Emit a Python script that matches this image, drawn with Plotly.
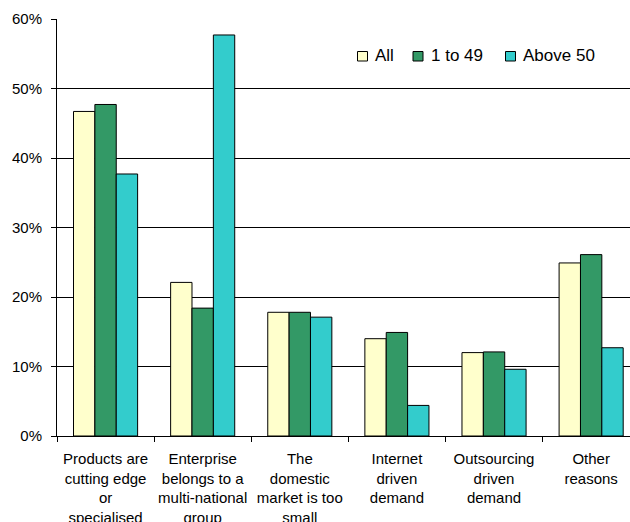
import plotly.graph_objects as go

categories = [
    "Products are<br>cutting edge<br>or<br>specialised",
    "Enterprise<br>belongs to a<br>multi-national<br>group",
    "The<br>domestic<br>market is too<br>small",
    "Internet<br>driven<br>demand",
    "Outsourcing<br>driven<br>demand",
    "Other<br>reasons",
]
series_names = ["All", "1 to 49", "Above 50"]
all_vals = [46.7, 22.1, 17.8, 14.0, 12.0, 24.9]
small_vals = [47.7, 18.4, 17.8, 14.9, 12.1, 26.1]
large_vals = [37.7, 57.7, 17.1, 4.4, 9.6, 12.7]
series_values = [all_vals, small_vals, large_vals]
colors = ["#FFFFCC", "#339966", "#33CCCC"]
title_text = "Reasons for exporting among exporting enterprises (%)"

FONT = "Liberation Sans, Arial, sans-serif"
W, H = 630, 522
ML, MR, MT, MB = 57, 0, 19, 86

fig = go.Figure()
for name, vals, col in zip(series_names, series_values, colors):
    fig.add_trace(go.Bar(
        x=categories,
        y=[v / 100 for v in vals],
        name=name,
        marker=dict(color=col, line=dict(color="#000000", width=1)),
        showlegend=False,
    ))

# custom legend (swatch + label) positioned in pixels
plot_w = W - ML - MR
plot_h = H - MT - MB
def px_x(px):
    return (px - ML) / plot_w
def px_y(py):
    return (H - MB - py) / plot_h

legend_sq_x = [357.5, 413, 505.5]
for name, col, sx in zip(series_names, colors, legend_sq_x):
    fig.add_shape(type="rect", xref="paper", yref="paper",
                  x0=px_x(sx), x1=px_x(sx + 10), y0=px_y(61), y1=px_y(51.5),
                  fillcolor=col, line=dict(color="#000000", width=1))
    fig.add_annotation(xref="paper", yref="paper", x=px_x(sx + 15.5), y=px_y(55.5),
                       xanchor="left", yanchor="middle", text=name, showarrow=False,
                       font=dict(family=FONT, size=17, color="#000000"))

# chart title (cut off at the top edge, as in the reference)
fig.add_annotation(xref="paper", yref="paper", x=px_x(335), y=1,
                   xanchor="center", yanchor="middle", yshift=28,
                   text="<b>" + title_text + "</b>", showarrow=False,
                   font=dict(family=FONT, size=16.5, color="#000000"))

fig.update_layout(
    width=W, height=H,
    margin=dict(l=ML, r=MR, t=MT, b=MB, pad=0),
    paper_bgcolor="#FFFFFF", plot_bgcolor="#FFFFFF",
    barmode="group", bargap=0.34, bargroupgap=0,
    font=dict(family=FONT, size=15, color="#000000"),
    xaxis=dict(
        type="category",
        range=[-0.5, 5.4],
        showline=True, linecolor="#000000", linewidth=1,
        ticks="outside", ticklen=5, tickcolor="#000000", tickwidth=1,
        tickson="boundaries",
        showgrid=False, zeroline=False,
        tickangle=0, automargin=False,
        ticklabelstandoff=9,
        tickfont=dict(family=FONT, size=15, color="#000000"),
    ),
    yaxis=dict(
        range=[0, 0.6], dtick=0.1, tick0=0, tickformat=".0%",
        showline=True, linecolor="#000000", linewidth=1,
        ticks="outside", ticklen=5, tickcolor="#000000", tickwidth=1,
        showgrid=True, gridcolor="#000000", gridwidth=1,
        zeroline=False, automargin=False,
        tickfont=dict(family=FONT, size=15, color="#000000"),
        ticklabelstandoff=6,
    ),
)

fig.write_html("out.html")
